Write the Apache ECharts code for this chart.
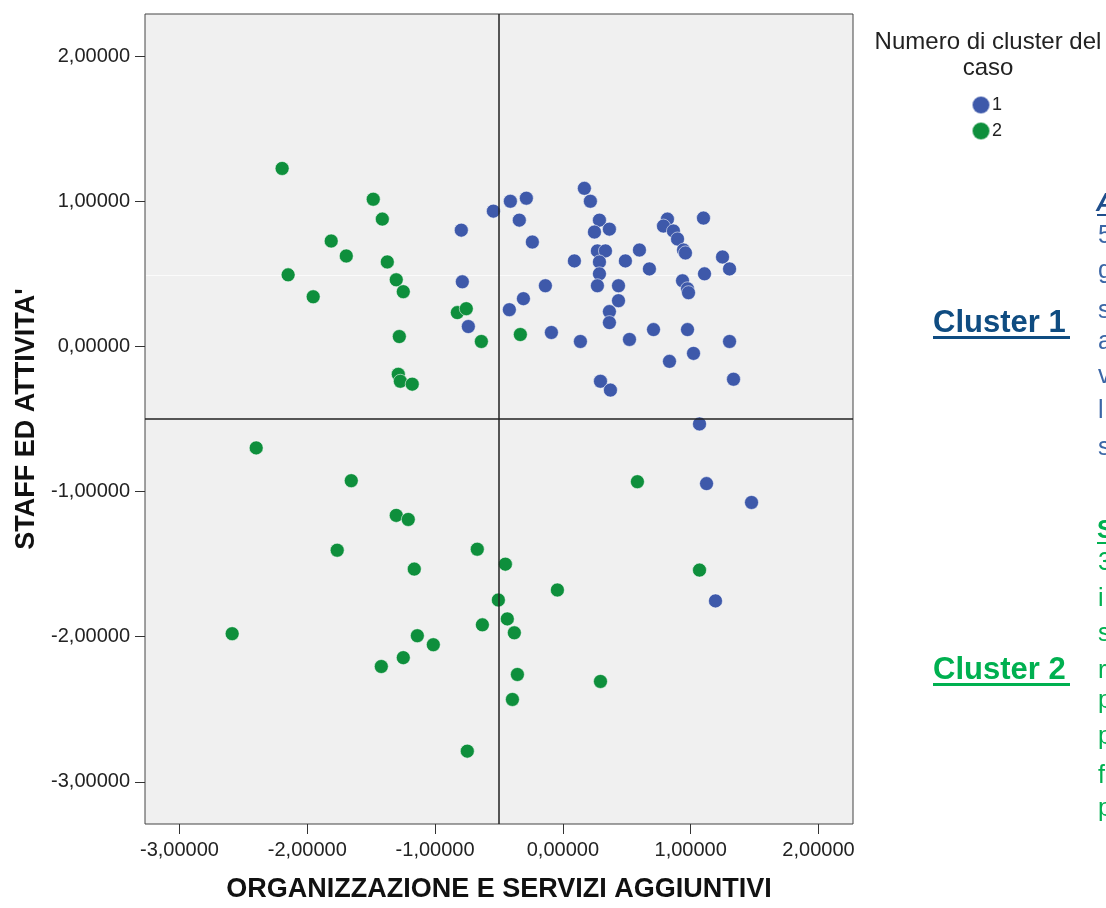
<!DOCTYPE html>
<html>
<head>
<meta charset="utf-8">
<script src="https://cdn.jsdelivr.net/npm/echarts@6/dist/echarts.min.js"></script>
<style>
  html, body { margin: 0; padding: 0; background: #ffffff; }
  #chart { width: 1106px; height: 908px; }
</style>
</head>
<body>
<div id="chart"></div>
<script>
// Cluster 1: [organizzazione e servizi aggiuntivi, staff ed attività]
const cluster1 = [
  [0.168, 1.089], [0.215, 1.000], [-0.411, 1.000], [-0.286, 1.021], [-0.544, 0.932],
  [-0.341, 0.870], [-0.239, 0.719], [0.286, 0.870], [0.247, 0.788], [0.364, 0.808],
  [0.270, 0.658], [0.333, 0.658], [0.286, 0.582], [0.286, 0.500], [0.270, 0.418],
  [0.090, 0.589], [0.489, 0.589], [0.599, 0.664], [0.677, 0.534], [0.435, 0.418],
  [0.435, 0.315], [0.364, 0.240], [0.364, 0.164], [-0.137, 0.418], [-0.309, 0.329],
  [-0.419, 0.253], [-0.090, 0.096], [0.137, 0.034], [0.521, 0.048], [0.709, 0.116],
  [0.975, 0.116], [1.304, 0.034], [1.022, -0.048], [0.834, -0.103], [1.335, -0.226],
  [0.294, -0.240], [0.372, -0.301], [0.818, 0.877], [0.787, 0.829], [0.865, 0.795],
  [0.897, 0.740], [0.944, 0.664], [0.959, 0.644], [1.100, 0.884], [1.249, 0.616],
  [1.304, 0.534], [1.108, 0.500], [0.936, 0.452], [0.975, 0.397], [0.983, 0.370],
  [-0.795, 0.801], [-0.787, 0.445], [-0.740, 0.137],
  [1.069, -0.534], [1.124, -0.945], [1.476, -1.075], [1.194, -1.753]
];

// Cluster 2
const cluster2 = [
  [-2.197, 1.226], [-1.484, 1.014], [-1.413, 0.877], [-1.813, 0.726], [-1.695, 0.623],
  [-1.374, 0.582], [-2.150, 0.493], [-1.304, 0.459], [-1.249, 0.377], [-1.954, 0.342],
  [-0.826, 0.233], [-0.756, 0.260], [-0.638, 0.034], [-1.280, 0.068], [-1.288, -0.192],
  [-1.272, -0.240], [-1.179, -0.260], [-0.333, 0.082],
  [-2.400, -0.699], [-1.656, -0.925], [-1.304, -1.164], [-1.210, -1.192], [-1.766, -1.404],
  [-0.670, -1.397], [-1.163, -1.534], [-0.450, -1.500], [-0.043, -1.678], [-0.505, -1.747],
  [-2.588, -1.979], [-1.421, -2.205], [-1.249, -2.144], [-1.139, -1.993], [-1.014, -2.055],
  [-0.630, -1.918], [-0.435, -1.877], [-0.380, -1.973], [-0.356, -2.260], [0.294, -2.308],
  [-0.395, -2.432], [-0.748, -2.788], [0.583, -0.932], [1.069, -1.541]
];

const xTicks = [-3, -2, -1, 0, 1, 2];
const yTicks = [-3, -2, -1, 0, 1, 2];
const refX = -0.5;
const refY = -0.5;
const seriesNames = ['1', '2'];
const xTitle = 'ORGANIZZAZIONE E SERVIZI AGGIUNTIVI';
const yTitle = "STAFF ED ATTIVITA'";
const legendTitle = 'Numero di cluster del\ncaso';
const clusterLabels = ['Cluster 1', 'Cluster 2'];
// first letters of the side notes that run past the right edge
const sideNotes1 = ['5', 'g', 's', 'a', 'v', 'l', 's'];
const sideNotes2 = ['3', 'i', 's', 'r', 'p', 'p', 'f', 'p'];

const BLUE = '#3e59aa';
const GREEN = '#0e8f3c';
const fmt = v => v.toFixed(5).replace('.', ',');

const chart = echarts.init(document.getElementById('chart'), null, { renderer: 'canvas' });

const sideBlueY = [236, 271, 311, 342, 376, 411, 448];
const sideGreenY = [563, 599, 634, 671, 701, 737, 776, 809];
const graphics = [
  { type: 'text', x: 988, y: 29, style: { text: legendTitle, font: '24px "Liberation Sans", Arial, sans-serif',
      fill: '#222', align: 'center', verticalAlign: 'top', lineHeight: 26 } },
  // faint light streak across the plot area
  { type: 'line', shape: { x1: 146, y1: 275.5, x2: 852, y2: 275.5 }, style: { stroke: '#fbfbfb', lineWidth: 1 }, z: 1 },
  { type: 'text', x: 933, y: 323, style: { text: clusterLabels[0], font: 'bold 31px "Liberation Sans", Arial, sans-serif',
      fill: '#0f4c81', verticalAlign: 'middle' } },
  { type: 'rect', shape: { x: 933, y: 336, width: 137, height: 3 }, style: { fill: '#0f4c81' } },
  { type: 'text', x: 933, y: 670, style: { text: clusterLabels[1], font: 'bold 31px "Liberation Sans", Arial, sans-serif',
      fill: '#00b050', verticalAlign: 'middle' } },
  { type: 'rect', shape: { x: 933, y: 683, width: 137, height: 3 }, style: { fill: '#00b050' } },
  { type: 'text', x: 1096, y: 204, style: { text: 'A', font: 'italic bold 25px "Liberation Sans", Arial, sans-serif',
      fill: '#1f4e8c', verticalAlign: 'middle' } },
  { type: 'rect', shape: { x: 1097, y: 214, width: 9, height: 2 }, style: { fill: '#1f4e8c' } },
  { type: 'text', x: 1097, y: 531, style: { text: 'S', font: 'bold 25px "Liberation Sans", Arial, sans-serif',
      fill: '#00b050', verticalAlign: 'middle' } },
  { type: 'rect', shape: { x: 1097, y: 542, width: 9, height: 2 }, style: { fill: '#00b050' } }
];
sideNotes1.forEach((t, i) => graphics.push({ type: 'text', x: 1098, y: sideBlueY[i],
  style: { text: t, font: '25px "Liberation Sans", Arial, sans-serif', fill: '#3b66a6', verticalAlign: 'middle' } }));
sideNotes2.forEach((t, i) => graphics.push({ type: 'text', x: 1098, y: sideGreenY[i],
  style: { text: t, font: '25px "Liberation Sans", Arial, sans-serif', fill: '#00b050', verticalAlign: 'middle' } }));

const axisCommon = {
  type: 'value',
  interval: 1,
  axisLine: { show: false, onZero: false },
  splitLine: { show: false },
  axisTick: { show: true, length: 10, lineStyle: { color: '#333', width: 1 } },
  axisLabel: { formatter: fmt, color: '#222', fontSize: 20, fontFamily: '"Liberation Sans", Arial, sans-serif' },
  nameLocation: 'middle',
  nameTextStyle: { fontWeight: 'bold', fontSize: 27, color: '#111', fontFamily: '"Liberation Sans", Arial, sans-serif' }
};

chart.setOption({
  animation: false,
  backgroundColor: '#ffffff',
  grid: { left: 145, right: 253, top: 14, bottom: 80, show: true, backgroundColor: '#f0f0f0',
          borderColor: '#444', borderWidth: 1, containLabel: false },
  xAxis: Object.assign({}, axisCommon, {
    min: -3.27, max: 2.27, name: xTitle, nameGap: 52,
    axisTick: Object.assign({}, axisCommon.axisTick, { customValues: xTicks }),
    axisLabel: Object.assign({}, axisCommon.axisLabel, { customValues: xTicks, margin: 16 })
  }),
  yAxis: Object.assign({}, axisCommon, {
    min: -3.29, max: 2.29, name: yTitle, nameGap: 104,
    axisTick: Object.assign({}, axisCommon.axisTick, { customValues: yTicks }),
    axisLabel: Object.assign({}, axisCommon.axisLabel, { customValues: yTicks, margin: 15 })
  }),
  legend: {
    orient: 'vertical', left: 966, top: 90, itemWidth: 18, itemHeight: 18, itemGap: 6,
    icon: 'circle', data: seriesNames,
    textStyle: { fontSize: 18, color: '#222', padding: [0, 0, 0, -3], fontFamily: '"Liberation Sans", Arial, sans-serif' }
  },
  graphic: graphics,
  series: [
    { name: seriesNames[0], type: 'scatter', data: cluster1, symbolSize: 14, z: 2,
      itemStyle: { color: BLUE, borderColor: 'rgba(255,255,255,0.55)', borderWidth: 1, opacity: 1 } },
    { name: seriesNames[1], type: 'scatter', data: cluster2, symbolSize: 14, z: 2,
      itemStyle: { color: GREEN, borderColor: 'rgba(255,255,255,0.55)', borderWidth: 1, opacity: 1 } },
    { type: 'scatter', data: [], z: 4, silent: true,
      markLine: { silent: true, symbol: 'none', animation: false, label: { show: false },
        lineStyle: { color: '#222', width: 1.5, type: 'solid' },
        data: [{ xAxis: refX }, { yAxis: refY }] } }
  ]
});
</script>
</body>
</html>
